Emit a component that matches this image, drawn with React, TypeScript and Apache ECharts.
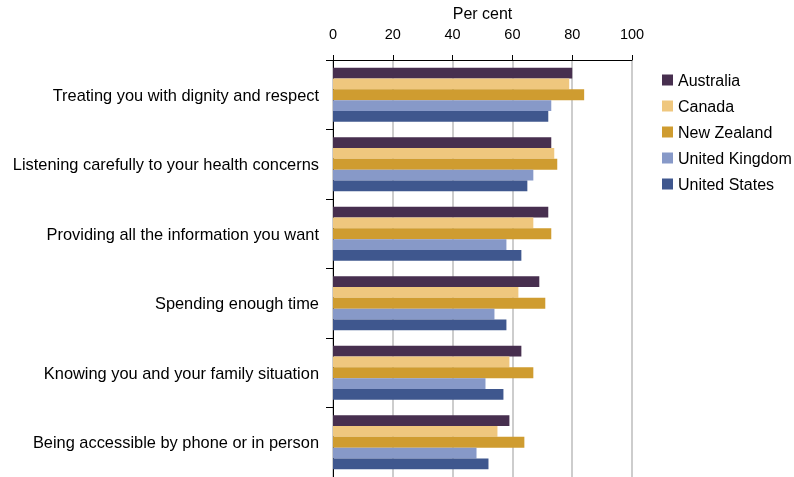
import React, { useEffect, useRef } from "react";
import * as echarts from "echarts";

const categories = [
  "Treating you with dignity and respect",
  "Listening carefully to your health concerns",
  "Providing all the information you want",
  "Spending enough time",
  "Knowing you and your family situation",
  "Being accessible by phone or in person",
];

const seriesNames = ["Australia", "Canada", "New Zealand", "United Kingdom", "United States"];
const australia = [80, 73, 72, 69, 63, 59];
const canada = [79, 74, 67, 62, 59, 55];
const newZealand = [84, 75, 73, 71, 67, 64];
const unitedKingdom = [73, 67, 58, 54, 51, 48];
const unitedStates = [72, 65, 63, 58, 57, 52];
const seriesData = [australia, canada, newZealand, unitedKingdom, unitedStates];
const colors = ["#472F4F", "#EFC77E", "#CF9C30", "#8799C8", "#3F578E"];

export default function App() {
  const ref = useRef<HTMLDivElement>(null);
  useEffect(() => {
    if (!ref.current) return;
    const chart = echarts.init(ref.current, undefined, { renderer: "svg" });
    const font = "Liberation Sans, Arial, sans-serif";
    chart.setOption({
      animation: false,
      textStyle: { fontFamily: font },
      grid: {
        left: 333,
        right: 162,
        top: 60,
        bottom: 0,
        containLabel: false,
        outerBoundsMode: "none",
      },
      legend: {
        orient: "vertical",
        left: 657,
        top: 67,
        itemWidth: 11,
        itemHeight: 11,
        itemGap: 10,
        icon: "rect",
        textStyle: { fontSize: 16, color: "#000", fontFamily: font, lineHeight: 16 },
        data: seriesNames,
      },
      xAxis: {
        type: "value",
        position: "top",
        min: 0,
        max: 100,
        interval: 20,
        name: "Per cent",
        nameLocation: "middle",
        nameGap: 37,
        nameTextStyle: { fontSize: 16, color: "#000", fontFamily: font },
        axisLine: { show: true, lineStyle: { color: "#000", width: 1 } },
        axisTick: { show: true, inside: false, length: 5, lineStyle: { color: "#000" } },
        axisLabel: { fontSize: 14.5, color: "#000", margin: 19, fontFamily: font },
        splitLine: { show: true, lineStyle: { color: "#BDBDBD", width: 1.5 } },
      },
      yAxis: {
        type: "category",
        inverse: true,
        data: categories,
        axisLine: { show: true, lineStyle: { color: "#000", width: 1 } },
        axisTick: { show: true, length: 7, interval: 0, lineStyle: { color: "#000" } },
        axisLabel: { fontSize: 16.4, color: "#000", margin: 14, interval: 0, fontFamily: font },
        splitLine: { show: false },
      },
      series: seriesNames.map((name, i) => ({
        name,
        type: "bar",
        data: seriesData[i],
        itemStyle: { color: colors[i] },
        barGap: "0%",
        barCategoryGap: "22%",
      })),
    });
    return () => chart.dispose();
  }, []);
  return (
    <div
      ref={ref}
      style={{ position: "fixed", left: 0, top: 0, width: 794, height: 477 }}
    />
  );
}
